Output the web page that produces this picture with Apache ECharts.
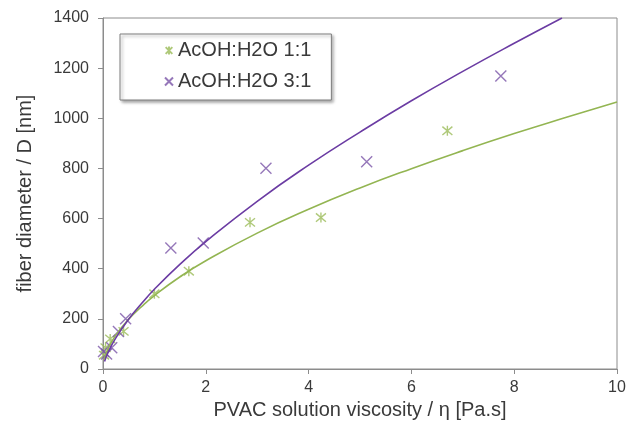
<!DOCTYPE html>
<html>
<head>
<meta charset="utf-8">
<script src="https://cdn.jsdelivr.net/npm/echarts@6/dist/echarts.min.js"></script>
<style>
html,body{margin:0;padding:0;background:#fff;}
#chart{width:629px;height:432px;}
</style>
</head>
<body>
<div id="chart"></div>
<script>
// Measured points: viscosity [Pa.s], fiber diameter [nm]
const series11Name = 'AcOH:H2O 1:1';
const series31Name = 'AcOH:H2O 3:1';
const visc11 = [0.02, 0.05, 0.14, 0.40, 1.00, 1.67, 2.86, 4.24, 6.70];
const diam11 = [55, 85, 120, 150, 300, 390, 585, 604, 950];
const visc31 = [0.01, 0.07, 0.17, 0.30, 0.44, 1.32, 1.95, 3.17, 5.13, 7.74];
const diam31 = [70, 60, 85, 150, 200, 483, 503, 801, 827, 1169];
// Trend lines
const trend11X = [0.03, 0.1, 0.25, 0.5, 0.75, 1, 1.5, 2, 3, 4, 5, 6, 7, 8, 9, 10];
const trend11Y = [41, 81, 135, 199, 249, 293, 368, 432, 542, 637, 722, 799, 871, 939, 1003, 1065];
const trend31X = [0.03, 0.1, 0.25, 0.5, 0.75, 1, 1.5, 2, 3, 4, 5, 6, 7, 8, 8.93];
const trend31Y = [30, 67, 124, 199, 261, 318, 418, 508, 669, 813, 945, 1070, 1187, 1299, 1400];
const xTicks = {min: 0, max: 10, interval: 2};
const yTicks = {min: 0, max: 1400, interval: 200};

const zip = (a, b) => a.map((v, i) => [v, b[i]]);
const green = '#9bbb59';
const greenLine = '#93b552';
const purple = '#7a55a8';
const purpleLine = '#6b3ca3';
const fontFamily = 'Liberation Sans, Arial, sans-serif';
const axisGray = '#8c8c8c';
const txt = '#3a3a3a';

const chart = echarts.init(document.getElementById('chart'));
chart.setOption({
  animation: false,
  backgroundColor: '#fff',
  grid: {left: 103, right: 12, top: 18, bottom: 63, show: true, borderColor: axisGray, borderWidth: 1},
  legend: {
    left: 120, top: 34, orient: 'vertical',
    data: [series11Name, series31Name],
    backgroundColor: '#fff',
    borderColor: '#7f7f7f', borderWidth: 1,
    shadowColor: 'rgba(0,0,0,0.35)', shadowBlur: 3, shadowOffsetX: 2, shadowOffsetY: 2,
    padding: [6, 20, 8, 44],
    itemGap: 10, itemWidth: 8, itemHeight: 8,
    textStyle: {fontFamily: fontFamily, fontSize: 20, color: txt, lineHeight: 21}
  },
  xAxis: {
    type: 'value', min: xTicks.min, max: xTicks.max, interval: xTicks.interval,
    name: 'PVAC solution viscosity / η [Pa.s]', nameLocation: 'middle', nameGap: 30,
    nameTextStyle: {fontFamily: fontFamily, fontSize: 20, color: txt},
    axisLine: {lineStyle: {color: axisGray}},
    axisTick: {show: true, length: 5, lineStyle: {color: axisGray}},
    axisLabel: {fontFamily: fontFamily, fontSize: 16, color: txt, margin: 11},
    splitLine: {show: false}
  },
  yAxis: {
    type: 'value', min: yTicks.min, max: yTicks.max, interval: yTicks.interval,
    name: 'fiber diameter / D [nm]', nameLocation: 'middle', nameGap: 68,
    nameTextStyle: {fontFamily: fontFamily, fontSize: 20, color: txt},
    axisLine: {show: true, lineStyle: {color: axisGray}},
    axisTick: {show: true, length: 5, lineStyle: {color: axisGray}},
    axisLabel: {fontFamily: fontFamily, fontSize: 16, color: txt, margin: 14, formatter: v => String(v)},
    splitLine: {show: false}
  },
  series: [
    {
      name: series11Name, type: 'scatter', data: zip(visc11, diam11),
      symbol: 'path://M0,0L10,10M10,0L0,10M5,-1L5,11', symbolSize: 10,
      itemStyle: {color: green, borderColor: green, borderWidth: 1.4}, z: 3
    },
    {
      name: series31Name, type: 'scatter', data: zip(visc31, diam31),
      symbol: 'path://M0,0L10,10M10,0L0,10', symbolSize: 11,
      itemStyle: {color: purple, borderColor: purple, borderWidth: 1.4}, z: 3
    },
    {
      name: 'trend 1:1', type: 'line', data: zip(trend11X, trend11Y),
      smooth: true, showSymbol: false, symbol: 'none',
      lineStyle: {color: greenLine, width: 1.6}, z: 4
    },
    {
      name: 'trend 3:1', type: 'line', data: zip(trend31X, trend31Y),
      smooth: true, showSymbol: false, symbol: 'none',
      lineStyle: {color: purpleLine, width: 1.6}, z: 4
    }
  ]
});
</script>
</body>
</html>
